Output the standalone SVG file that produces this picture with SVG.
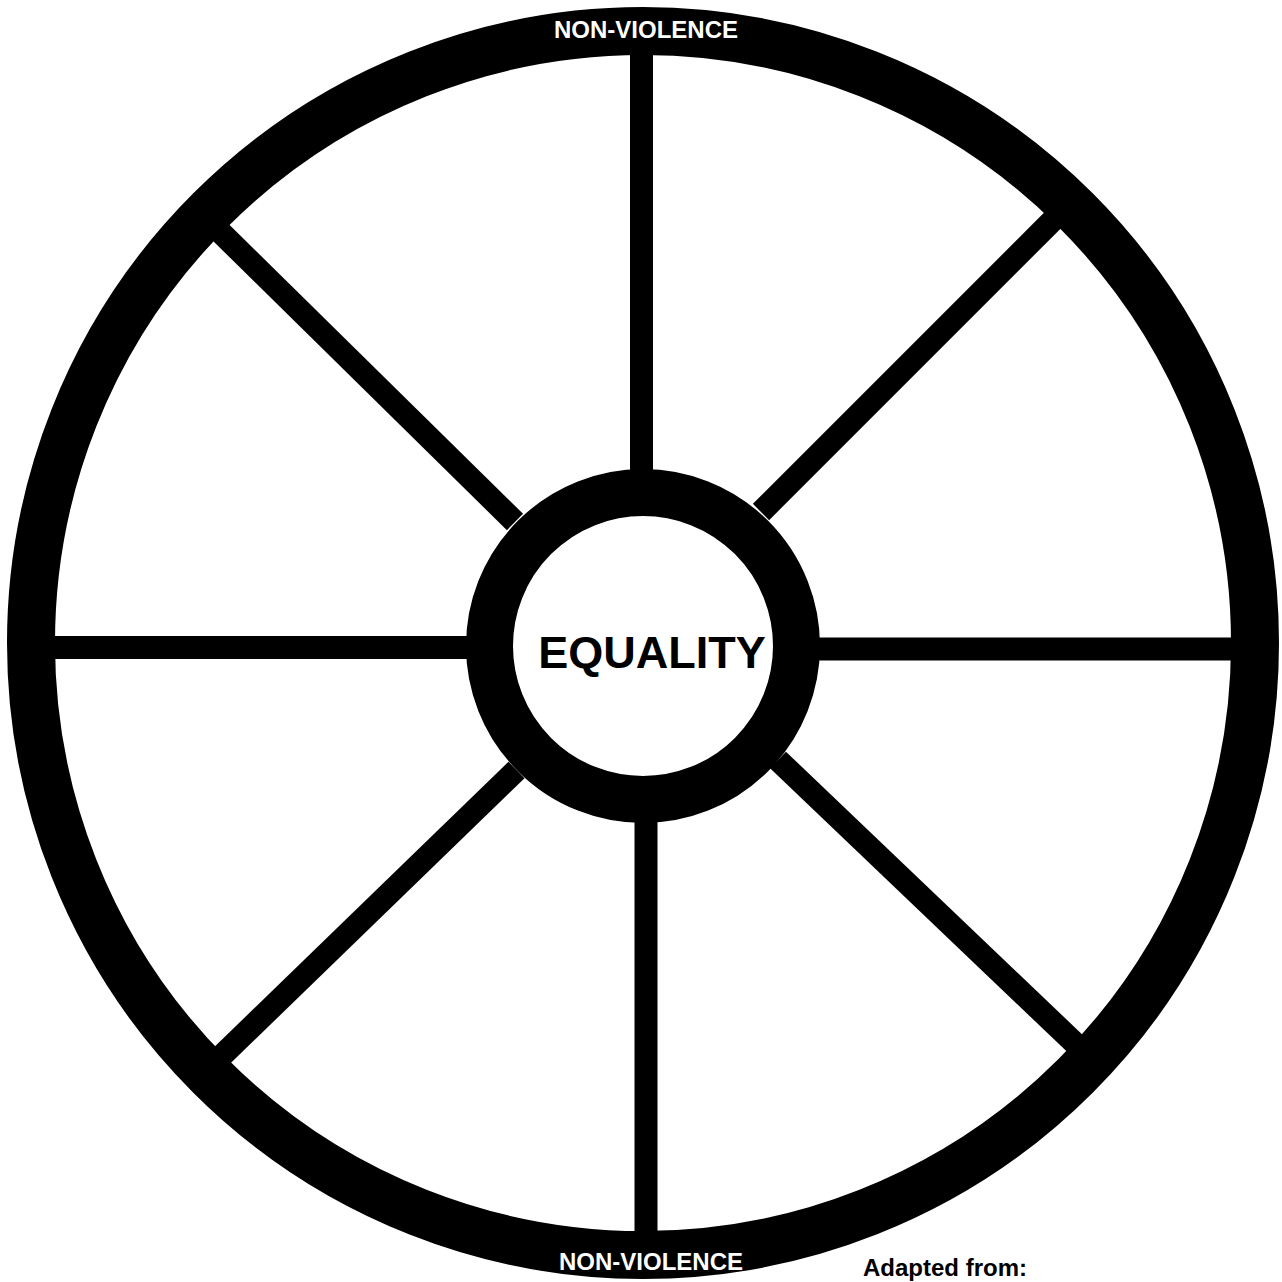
<svg xmlns="http://www.w3.org/2000/svg" width="1282" height="1282" viewBox="0 0 1282 1282">
<style>
.spoke{stroke:#000;stroke-width:23;stroke-linecap:butt;fill:none}
.ring{fill:none;stroke:#000}
.lbl{font-family:"Liberation Sans",Arial,sans-serif;font-weight:bold}
</style>
<rect width="1282" height="1282" fill="#fff"/>
<g id="connectors">
<line class="spoke" x1="641.5" y1="646" x2="641.5" y2="30"/>
<line class="spoke" x1="646" y1="646" x2="646" y2="1260"/>
<line class="spoke" x1="643" y1="647.5" x2="30" y2="647.5"/>
<line class="spoke" x1="643" y1="649" x2="1260" y2="649"/>
<line class="spoke" x1="515" y1="522" x2="200" y2="212"/>
<line class="spoke" x1="761" y1="512" x2="1075" y2="198"/>
<line class="spoke" x1="516.5" y1="770" x2="205" y2="1072"/>
<line class="spoke" x1="778" y1="760" x2="1085" y2="1053"/>
</g>
<g id="outer-ring">
<circle class="ring" cx="643" cy="643" r="612" stroke-width="48"/>
<text class="lbl" x="646" y="38" font-size="24" fill="#fff" text-anchor="middle">NON-VIOLENCE</text>
<text class="lbl" x="651" y="1270" font-size="24" fill="#fff" text-anchor="middle">NON-VIOLENCE</text>
</g>
<g id="hub">
<circle cx="643" cy="646" r="153.5" fill="#fff" stroke="#000" stroke-width="47"/>
<text class="lbl" x="652" y="668" font-size="45" fill="#000" text-anchor="middle">EQUALITY</text>
</g>
<g id="caption">
<text class="lbl" x="863" y="1276" font-size="24" fill="#000">Adapted from:</text>
</g>
</svg>
